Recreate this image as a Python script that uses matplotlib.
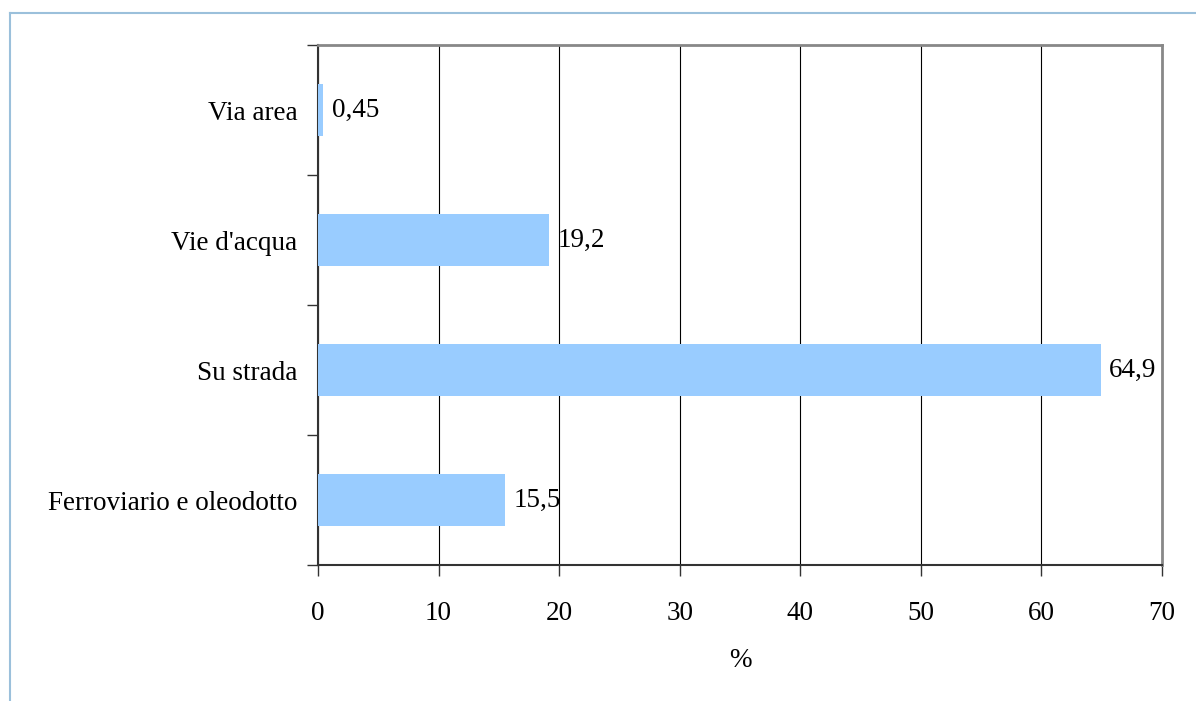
import numpy as np
import matplotlib.pyplot as plt
from matplotlib.lines import Line2D

categories = ['Ferroviario e oleodotto', 'Su strada', "Vie d'acqua", 'Via area']
values = [15.5, 64.9, 19.2, 0.45]
labels = ['15,5', '64,9', '19,2', '0,45']
xticks = [0, 10, 20, 30, 40, 50, 60, 70]

plt.rcParams['font.family'] = ['Liberation Serif', 'DejaVu Serif']
plt.rcParams['font.size'] = 19.5

fig = plt.figure(figsize=(11.96, 7.01), dpi=100)
ax = fig.add_axes([318 / 1196, 1 - 565 / 701, (1162 - 318) / 1196, (565 - 45) / 701])

y = np.arange(len(categories))
ax.barh(y, values, height=0.4, color='#99CCFF', zorder=3)
for yi, v, lab in zip(y, values, labels):
    ax.text(v + 0.7, yi, lab, va='center', ha='left', zorder=4)

ax.set_xlim(0, 70)
ax.set_ylim(-0.5, len(categories) - 0.5)
ax.set_xticks(xticks)
ax.set_xticklabels([str(t) for t in xticks])
ax.set_yticks(y)
ax.set_yticklabels(categories)
ax.tick_params(axis='y', which='major', length=0, pad=15)
ax.set_yticks(np.arange(-0.5, len(categories)), minor=True)
ax.tick_params(axis='y', which='minor', length=8, width=1, color='#333333', direction='out')
ax.tick_params(axis='x', length=8, width=1, color='#333333', direction='out', pad=18)
ax.grid(axis='x', color='black', linewidth=0.8, zorder=1)

for s in ['left', 'bottom']:
    ax.spines[s].set_color('#333333')
    ax.spines[s].set_linewidth(1.5)
for s in ['top', 'right']:
    ax.spines[s].set_color('#888888')
    ax.spines[s].set_linewidth(2)

ax.set_xlabel('%', labelpad=16)

# outer frame (top and left edges)
fig.add_artist(Line2D([10 / 1196, 1], [1 - 13 / 701, 1 - 13 / 701],
                      transform=fig.transFigure, color='#9BC0DB', linewidth=1.5))
fig.add_artist(Line2D([10 / 1196, 10 / 1196], [0, 1 - 13 / 701],
                      transform=fig.transFigure, color='#9BC0DB', linewidth=1.5))

fig.savefig('out.png', dpi=100)
